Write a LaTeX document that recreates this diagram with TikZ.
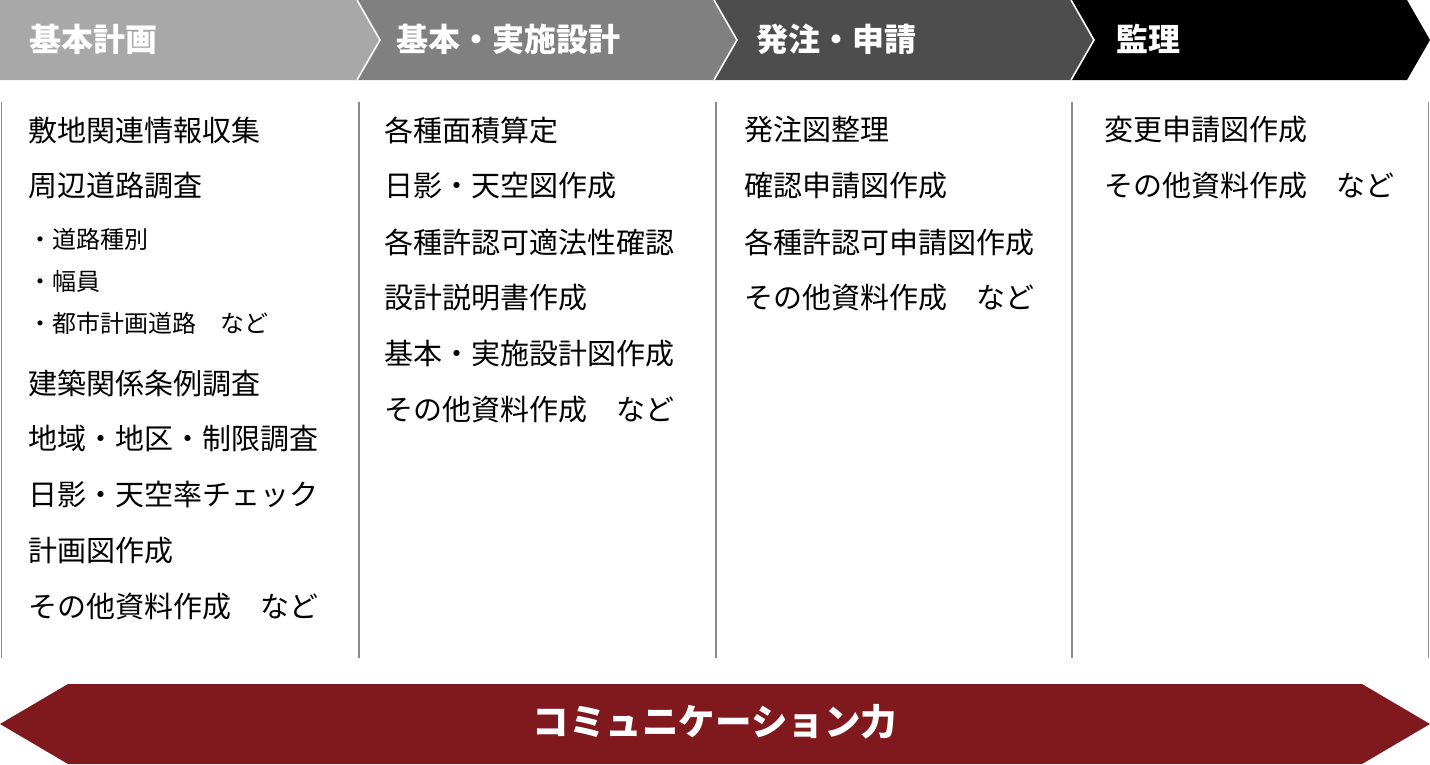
\documentclass[tikz,border=0pt]{standalone}
\usepackage{fontspec}
\setmainfont{Noto Sans CJK JP}
\definecolor{cA}{RGB}{168,168,168}
\definecolor{cB}{RGB}{128,128,128}
\definecolor{cC}{RGB}{77,77,77}
\definecolor{cD}{RGB}{0,0,0}
\definecolor{commred}{RGB}{127,25,29}
\definecolor{linegray}{RGB}{140,140,140}
\tikzset{
  bodytxt/.style={anchor=west, inner sep=0pt, text=black, font=\fontsize{29}{29}\selectfont},
  smalltxt/.style={anchor=west, inner sep=0pt, text=black, font=\fontsize{24}{24}\selectfont},
  headtxt/.style={anchor=west, inner sep=0pt, text=white, font=\bfseries\fontsize{32}{32}\selectfont},
  commtxt/.style={inner sep=0pt, text=white, font=\bfseries\fontsize{36.5}{36.5}\selectfont},
  colline/.style={draw=linegray, line width=1.3pt},
  sepline/.style={draw=white, line width=1.6pt},
}
\begin{document}
\begin{tikzpicture}[x=1pt,y=-1pt]
\useasboundingbox (0,0) rectangle (1430,764);
% header chevrons
\fill[cA] (0,0) -- (357,0) -- (380,40) -- (357,80) -- (0,80) -- cycle;
\fill[cB] (357,0) -- (714,0) -- (737,40) -- (714,80) -- (357,80) -- (380,40) -- cycle;
\fill[cC] (714,0) -- (1071,0) -- (1094,40) -- (1071,80) -- (714,80) -- (737,40) -- cycle;
\fill[cD] (1071,0) -- (1407,0) -- (1430,40) -- (1407,80) -- (1071,80) -- (1094,40) -- cycle;
\draw[sepline] (357,0) -- (380,40) -- (357,80);
\draw[sepline] (714,0) -- (737,40) -- (714,80);
\draw[sepline] (1071,0) -- (1094,40) -- (1071,80);
\node[headtxt] (h1) at (29,39) {基本計画};
\node[headtxt] (h2) at (396,39) {基本・実施設計};
\node[headtxt] (h3) at (756,39) {発注・申請};
\node[headtxt] (h4) at (1116,39) {監理};
% column lines
\draw[colline] (1.5,102) -- (1.5,658);
\draw[colline] (359,102) -- (359,658);
\draw[colline] (716,102) -- (716,658);
\draw[colline] (1072,102) -- (1072,658);
\draw[colline] (1428.5,102) -- (1428.5,658);
% column 1
\node[bodytxt] (a1) at (28,130) {敷地関連情報収集};
\node[bodytxt] (a2) at (28,186) {周辺道路調査};
\node[smalltxt] (a3) at (28,239) {・道路種別};
\node[smalltxt] (a4) at (28,281) {・幅員};
\node[smalltxt] (a5) at (28,323) {・都市計画道路　など};
\node[bodytxt] (a6) at (28,383) {建築関係条例調査};
\node[bodytxt] (a7) at (28,439) {地域・地区・制限調査};
\node[bodytxt] (a8) at (28,495) {日影・天空率チェック};
\node[bodytxt] (a9) at (28,551) {計画図作成};
\node[bodytxt] (a10) at (28,607) {その他資料作成　など};
% column 2
\node[bodytxt] (b1) at (384,130) {各種面積算定};
\node[bodytxt] (b2) at (384,186) {日影・天空図作成};
\node[bodytxt] (b3) at (384,242) {各種許認可適法性確認};
\node[bodytxt] (b4) at (384,298) {設計説明書作成};
\node[bodytxt] (b5) at (384,354) {基本・実施設計図作成};
\node[bodytxt] (b6) at (384,410) {その他資料作成　など};
% column 3
\node[bodytxt] (c1) at (744,130) {発注図整理};
\node[bodytxt] (c2) at (744,186) {確認申請図作成};
\node[bodytxt] (c3) at (744,242) {各種許認可申請図作成};
\node[bodytxt] (c4) at (744,298) {その他資料作成　など};
% column 4
\node[bodytxt] (d1) at (1104,130) {変更申請図作成};
\node[bodytxt] (d2) at (1104,186) {その他資料作成　など};
% bottom band
\fill[commred] (0,724) -- (68,684) -- (1362,684) -- (1430,724) -- (1362,764) -- (68,764) -- cycle;
\node[commtxt] (comm) at (715,722) {コミュニケーション力};
\end{tikzpicture}
\end{document}
